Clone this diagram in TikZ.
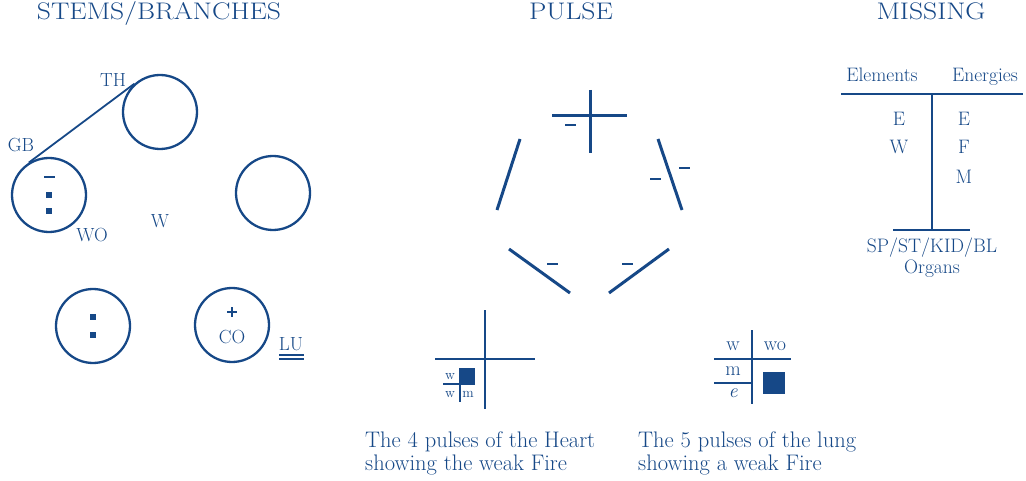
\documentclass[tikz,border=0pt]{standalone}
\usepackage{fontspec}
\usepackage{graphicx}
\definecolor{ink}{RGB}{22,72,135}
\newcommand{\sxa}[1]{\scalebox{1.15}[1]{#1}}
\tikzset{
  every node/.style={text=ink, inner sep=0pt},
  titletxt/.style={font=\fontsize{24}{26}\selectfont, anchor=base},
  lbl/.style={font=\fontsize{19.5}{20}\selectfont, anchor=base},
  lblb/.style={font=\fontsize{19}{20}\selectfont, anchor=base},
  captxt/.style={font=\fontsize{22.5}{26}\selectfont, anchor=base west},
  tinytxt/.style={font=\fontsize{14}{16}\selectfont, anchor=base},
  smalltxt/.style={font=\fontsize{20}{20}\selectfont, anchor=base},
  ring/.style={circle, draw=ink, line width=2.3pt, minimum size=74pt},
  dotsq/.style={rectangle, fill=ink, minimum size=6pt},
  bar/.style={rectangle, fill=ink, minimum width=11pt, minimum height=2.8pt},
  ln/.style={draw=ink, line width=1.8pt},
  pl/.style={draw=ink, line width=3pt},
  midln/.style={draw=ink, line width=2pt},
}
\begin{document}
\begin{tikzpicture}[x=1pt,y=-1pt]
\useasboundingbox (0,0) rectangle (1026,481);
% titles
\node[titletxt] (t1) at (159,20) {\sxa{STEMS/BRANCHES}};
\node[titletxt] (t2) at (571,20) {\sxa{PULSE}};
\node[titletxt] (t3) at (931,20) {\sxa{MISSING}};
% stems / branches
\node[ring] (th) at (160,112) {};
\node[ring] (lc) at (49,195) {};
\node[ring] (rc) at (273,193) {};
\node[ring] (bl) at (93,326) {};
\node[ring] (co) at (232,325) {};
\draw[ln] (lc.122) -- (th.132);
\node[lblb] (thl) at (113,87) {TH};
\node[lblb] (gbl) at (21,152) {GB};
\node[lblb] (wol) at (92,242) {WO};
\node[lblb] (wl) at (160,228) {W};
\node[bar] (lcm) at (49,177) {};
\node[dotsq] (lcd1) at (49,195) {};
\node[dotsq] (lcd2) at (49,211) {};
\node[dotsq] (bld1) at (93,317) {};
\node[dotsq] (bld2) at (93,335) {};
\coordinate (pa) at (227,312); \coordinate (pb) at (237,312);
\coordinate (pc) at (232,307); \coordinate (pd) at (232,317);
\draw[draw=ink, line width=2.6pt] (pa) -- (pb) (pc) -- (pd);
\node[lblb] (col) at (232,343) {CO};
\node[lblb] (lul) at (291,350) {LU};
\coordinate (u1a) at (279,355); \coordinate (u1b) at (304,355);
\coordinate (u2a) at (279,359); \coordinate (u2b) at (304,359);
\draw[draw=ink, line width=1.3pt] (u1a) -- (u1b) (u2a) -- (u2b);
% pulse pentagon
\coordinate (ch1) at (552,116); \coordinate (ch2) at (627,116);
\coordinate (cv1) at (590,90); \coordinate (cv2) at (590,153);
\draw[pl] (ch1) -- (ch2) (cv1) -- (cv2);
\node[bar] (m1) at (570,125) {};
\coordinate (la) at (520,139); \coordinate (lb) at (497,210);
\draw[pl] (la) -- (lb);
\coordinate (ra) at (658,139); \coordinate (rb) at (682,210);
\draw[pl] (ra) -- (rb);
\node[bar] (m2) at (655,179) {};
\node[bar] (m3) at (684,168) {};
\coordinate (bla) at (509,249); \coordinate (blb) at (570,293);
\draw[pl] (bla) -- (blb);
\node[bar] (m4) at (552,264) {};
\coordinate (bra) at (669,249); \coordinate (brb) at (609,293);
\draw[pl] (bra) -- (brb);
\node[bar] (m5) at (627,264) {};
% heart pulses
\coordinate (hh1) at (435,359); \coordinate (hh2) at (535,359);
\coordinate (hv1) at (485,310); \coordinate (hv2) at (485,409);
\draw[midln] (hh1) -- (hh2) (hv1) -- (hv2);
\node[rectangle, fill=ink, minimum size=16pt] (hsq) at (467,376) {};
\coordinate (sh1) at (443,384); \coordinate (sh2) at (475,384);
\coordinate (sv1) at (460,376); \coordinate (sv2) at (460,402);
\draw[draw=ink, line width=1.6pt] (sh1) -- (sh2) (sv1) -- (sv2);
\node[tinytxt] (hw1) at (450,379) {w};
\node[tinytxt] (hw2) at (450,397) {w};
\node[tinytxt] (hm) at (468,397) {m};
% lung pulses
\coordinate (lv1) at (752,330); \coordinate (lv2) at (752,404);
\coordinate (lh1) at (714,359); \coordinate (lh2) at (791,359);
\coordinate (lh3) at (714,383); \coordinate (lh4) at (752,383);
\draw[midln] (lv1) -- (lv2) (lh1) -- (lh2) (lh3) -- (lh4);
\node[smalltxt] (lw) at (733,350) {w};
\node[smalltxt] (lwo) at (775,350) {wo};
\node[smalltxt] (lm) at (733,375) {m};
\node[smalltxt] (le) at (733,397) {\itshape e};
\node[rectangle, fill=ink, minimum size=22pt] (lsq) at (774,383) {};
% captions
\node[captxt] (c1a) at (365,447) {The 4 pulses of the Heart};
\node[captxt] (c1b) at (365,470) {showing the weak Fire};
\node[captxt] (c2a) at (638,447) {The 5 pulses of the lung};
\node[captxt] (c2b) at (638,470) {showing a weak Fire};
% missing
\node[lbl] (el) at (882,82) {Elements};
\node[lbl] (en) at (985,82) {Energies};
\coordinate (mt1) at (841,94); \coordinate (mt2) at (1023,94);
\coordinate (mv1) at (932,94); \coordinate (mv2) at (932,230);
\coordinate (mb1) at (893,230); \coordinate (mb2) at (970,230);
\draw[midln] (mt1) -- (mt2) (mv1) -- (mv2) (mb1) -- (mb2);
\node[lbl] (e1) at (899,126) {E};
\node[lbl] (w1) at (899,154) {W};
\node[lbl] (e2) at (964,126) {E};
\node[lbl] (f2) at (964,154) {F};
\node[lbl] (m2l) at (964,184) {M};
\node[lbl] (org1) at (932,253) {SP/ST/KID/BL};
\node[lbl] (org2) at (932,274) {Organs};
\end{tikzpicture}
\end{document}
